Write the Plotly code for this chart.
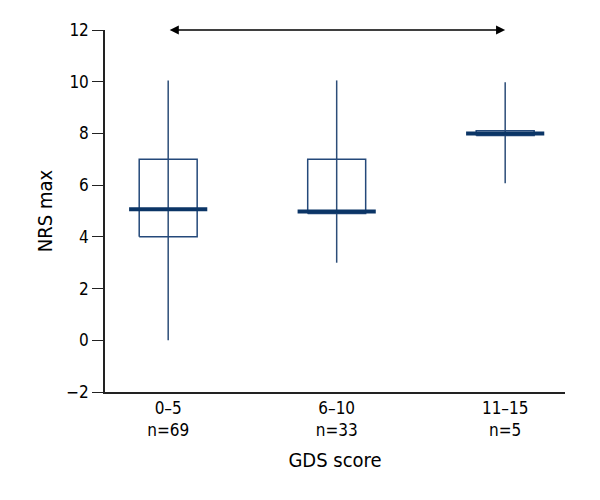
import plotly.graph_objects as go

categories = ["0–5<br>n=69", "6–10<br>n=33", "11–15<br>n=5"]
q1 = [4.0, 4.9, 7.92]
median = [5.07, 4.98, 8.0]
q3 = [7.0, 7.0, 8.1]
low = [0.0, 3.0, 6.07]
high = [10.05, 10.05, 9.98]
y_ticks = [-2, 0, 2, 4, 6, 8, 10, 12]

pos = list(range(len(categories)))
box_half = 0.172
med_half = 0.232
box_col = "#24497a"
med_col = "#0b3566"
whisk_col = "#2c4d78"

fig = go.Figure()
for i, p in enumerate(pos):
    # whisker (through box)
    fig.add_trace(go.Scatter(x=[p, p], y=[low[i], high[i]], mode="lines",
                             line=dict(color=whisk_col, width=1.5),
                             hoverinfo="skip", showlegend=False))
    # box
    fig.add_trace(go.Scatter(
        x=[p - box_half, p + box_half, p + box_half, p - box_half, p - box_half],
        y=[q1[i], q1[i], q3[i], q3[i], q1[i]], mode="lines",
        line=dict(color=box_col, width=1.5), hoverinfo="skip", showlegend=False))
    # median
    fig.add_trace(go.Scatter(x=[p - med_half, p + med_half], y=[median[i], median[i]],
                             mode="lines", line=dict(color=med_col, width=4),
                             hoverinfo="skip", showlegend=False))

# double-headed arrow between first and last group at top
fig.add_annotation(x=pos[-1], y=12, ax=pos[0], ay=12, xref="x", yref="y",
                   axref="x", ayref="y", text="", showarrow=True,
                   arrowhead=2, startarrowhead=2, arrowside="end+start",
                   arrowsize=1.4, arrowwidth=1.3, arrowcolor="black")

font_family = "Liberation Sans Narrow, DejaVu Sans Condensed, sans-serif"
fig.update_layout(
    width=600, height=500,
    margin=dict(l=97, r=43, t=22, b=116),
    paper_bgcolor="white", plot_bgcolor="white",
    font=dict(family=font_family, size=17, color="black"),
    xaxis=dict(range=[-0.375, 2.355], tickvals=pos, ticktext=categories,
               showgrid=False, zeroline=False, showline=True, linecolor="#222",
               linewidth=1.5, ticks="", title=dict(text="GDS score", standoff=14),
               tickfont=dict(size=17)),
    yaxis=dict(range=[-2, 12], tickvals=y_ticks, showgrid=False, zeroline=False,
               showline=True, linecolor="#222", linewidth=1.5, ticks="outside",
               ticklen=11, tickwidth=1.3, tickcolor="#222",
               title=dict(text="NRS max", standoff=8), tickfont=dict(size=17)),
)

fig.write_html("out.html")
